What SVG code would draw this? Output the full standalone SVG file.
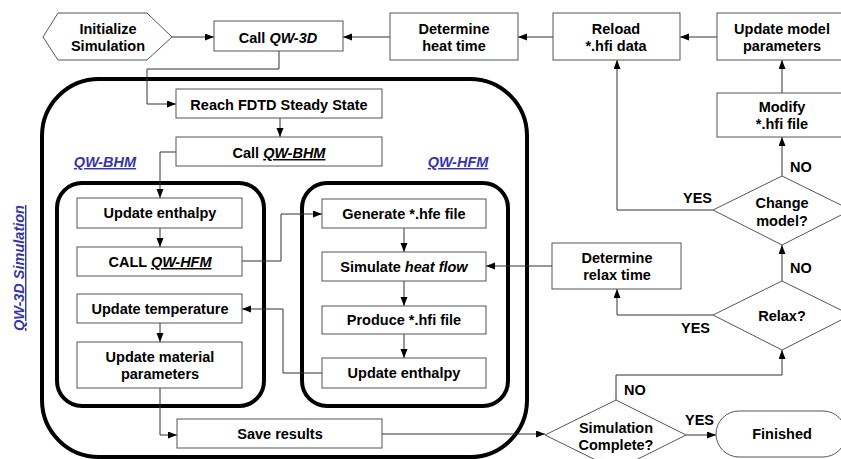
<svg xmlns="http://www.w3.org/2000/svg" width="841" height="459" viewBox="0 0 841 459">
<style>
text{font-family:"Liberation Sans",Arial,sans-serif;font-weight:bold;font-size:14.5px;fill:#000;text-anchor:middle}
.box{fill:#fff;stroke:#555;stroke-width:1}
.grp{fill:none;stroke:#000;stroke-width:4}
.con{fill:none;stroke:#333;stroke-width:1}
.lbl{text-anchor:start}
.it{font-style:italic}
.u{text-decoration:underline}
.blue{fill:#3636a8;font-style:italic;text-decoration:underline}
</style>
<defs>
<marker id="ah" markerUnits="userSpaceOnUse" markerWidth="10" markerHeight="8" refX="9" refY="3.5" orient="auto">
<path d="M0,0 L9,3.5 L0,7 z" fill="#000"/>
</marker>
</defs>

<g id="containers">
<rect id="qw3d-sim" class="grp" x="42" y="79" width="485" height="378" rx="57"/>
<rect id="qw-bhm-grp" class="grp" x="57" y="183" width="207" height="223" rx="25"/>
<rect id="qw-hfm-grp" class="grp" x="302" y="183" width="206" height="223" rx="25"/>
<text class="blue" x="105" y="167">QW-BHM</text>
<text class="blue" x="458" y="167">QW-HFM</text>
<text class="blue" transform="translate(24,268) rotate(-90)">QW-3D Simulation</text>
</g>

<g id="connectors" class="con">
<path d="M172,37 H214" marker-end="url(#ah)"/>
<path d="M390,37 H343" marker-end="url(#ah)"/>
<path d="M553,37 H518" marker-end="url(#ah)"/>
<path d="M717,37 H680" marker-end="url(#ah)"/>
<path d="M782,93 V60" marker-end="url(#ah)"/>
<path d="M782,176 V137" marker-end="url(#ah)"/>
<path d="M713,210 H617 V60" marker-end="url(#ah)"/>
<path d="M782,281 V245" marker-end="url(#ah)"/>
<path d="M713,315 H617 V289" marker-end="url(#ah)"/>
<path d="M552,266 H486" marker-end="url(#ah)"/>
<path d="M616,400 V375 H782 V350" marker-end="url(#ah)"/>
<path d="M686,435 H716" marker-end="url(#ah)"/>
<path d="M382,434 H545" marker-end="url(#ah)"/>
<path d="M279,51 V69 H147 V104 H176" marker-end="url(#ah)"/>
<path d="M280,118 V137" marker-end="url(#ah)"/>
<path d="M176,152 H160 V198" marker-end="url(#ah)"/>
<path d="M160,228 V247" marker-end="url(#ah)"/>
<path d="M242,261 H281 V214 H322" marker-end="url(#ah)"/>
<path d="M404,228 V252" marker-end="url(#ah)"/>
<path d="M404,281 V306" marker-end="url(#ah)"/>
<path d="M404,334 V358" marker-end="url(#ah)"/>
<path d="M322,373 H283 V309 H242" marker-end="url(#ah)"/>
<path d="M160,323 V342" marker-end="url(#ah)"/>
<path d="M160,388 V435 H177" marker-end="url(#ah)"/>
</g>

<g id="edge-labels">
<text class="lbl" x="790" y="172">NO</text>
<text class="lbl" x="790" y="273">NO</text>
<text class="lbl" x="683" y="203">YES</text>
<text class="lbl" x="681" y="333">YES</text>
<text class="lbl" x="624" y="395">NO</text>
<text class="lbl" x="685" y="425">YES</text>
</g>

<g id="init">
<polygon class="box" points="43,37 58,13 147,13 172,37 147,60 58,60"/>
<text x="108" y="34">Initialize</text>
<text x="108" y="51">Simulation</text>
</g>
<g id="call-qw3d">
<rect class="box" x="214" y="21" width="129" height="30"/>
<text x="278" y="43">Call <tspan class="it">QW-3D</tspan></text>
</g>
<g id="heat-time">
<rect class="box" x="390" y="13" width="128" height="47"/>
<text x="454" y="34">Determine</text>
<text x="454" y="51">heat time</text>
</g>
<g id="reload">
<rect class="box" x="553" y="13" width="127" height="47"/>
<text x="616" y="34">Reload</text>
<text x="616" y="51">*.hfi data</text>
</g>
<g id="update-model">
<rect class="box" x="717" y="13" width="130" height="47"/>
<text x="782" y="34">Update model</text>
<text x="782" y="51">parameters</text>
</g>
<g id="modify">
<rect class="box" x="717" y="93" width="130" height="44"/>
<text x="782" y="112">Modify</text>
<text x="782" y="129">*.hfi file</text>
</g>
<g id="change-model">
<polygon class="box" points="782,176 851,210 782,245 713,210"/>
<text x="782" y="208">Change</text>
<text x="782" y="226">model?</text>
</g>
<g id="relax-time">
<rect class="box" x="552" y="243" width="129" height="46"/>
<text x="617" y="263">Determine</text>
<text x="617" y="280">relax time</text>
</g>
<g id="relax">
<polygon class="box" points="782,281 851,315 782,350 713,315"/>
<text x="782" y="321">Relax?</text>
</g>
<g id="sim-complete">
<polygon class="box" points="616,400 686,435 616,470 545,435"/>
<text x="616" y="433">Simulation</text>
<text x="616" y="450">Complete?</text>
</g>
<g id="finished">
<rect class="box" x="716" y="411" width="130" height="46" rx="23"/>
<text x="782" y="439">Finished</text>
</g>
<g id="reach-fdtd">
<rect class="box" x="176" y="89" width="206" height="29"/>
<text x="279" y="110">Reach FDTD Steady State</text>
</g>
<g id="call-bhm">
<rect class="box" x="176" y="137" width="206" height="29"/>
<text x="279" y="158">Call <tspan class="it u">QW-BHM</tspan></text>
</g>
<g id="bhm-enthalpy">
<rect class="box" x="77" y="198" width="165" height="30"/>
<text x="160" y="218">Update enthalpy</text>
</g>
<g id="call-hfm">
<rect class="box" x="77" y="247" width="165" height="29"/>
<text x="160" y="267">CALL <tspan class="it u">QW-HFM</tspan></text>
</g>
<g id="update-temp">
<rect class="box" x="77" y="294" width="165" height="29"/>
<text x="160" y="314">Update temperature</text>
</g>
<g id="update-material">
<rect class="box" x="77" y="342" width="165" height="46"/>
<text x="160" y="362">Update material</text>
<text x="160" y="379">parameters</text>
</g>
<g id="save-results">
<rect class="box" x="177" y="419" width="205" height="29"/>
<text x="280" y="439">Save results</text>
</g>
<g id="generate-hfe">
<rect class="box" x="322" y="199" width="164" height="29"/>
<text x="404" y="219">Generate *.hfe file</text>
</g>
<g id="simulate-heat">
<rect class="box" x="322" y="252" width="164" height="29"/>
<text x="404" y="272">Simulate <tspan class="it">heat flow</tspan></text>
</g>
<g id="produce-hfi">
<rect class="box" x="322" y="306" width="164" height="28"/>
<text x="404" y="325">Produce *.hfi file</text>
</g>
<g id="hfm-enthalpy">
<rect class="box" x="322" y="358" width="164" height="30"/>
<text x="404" y="378">Update enthalpy</text>
</g>
</svg>
